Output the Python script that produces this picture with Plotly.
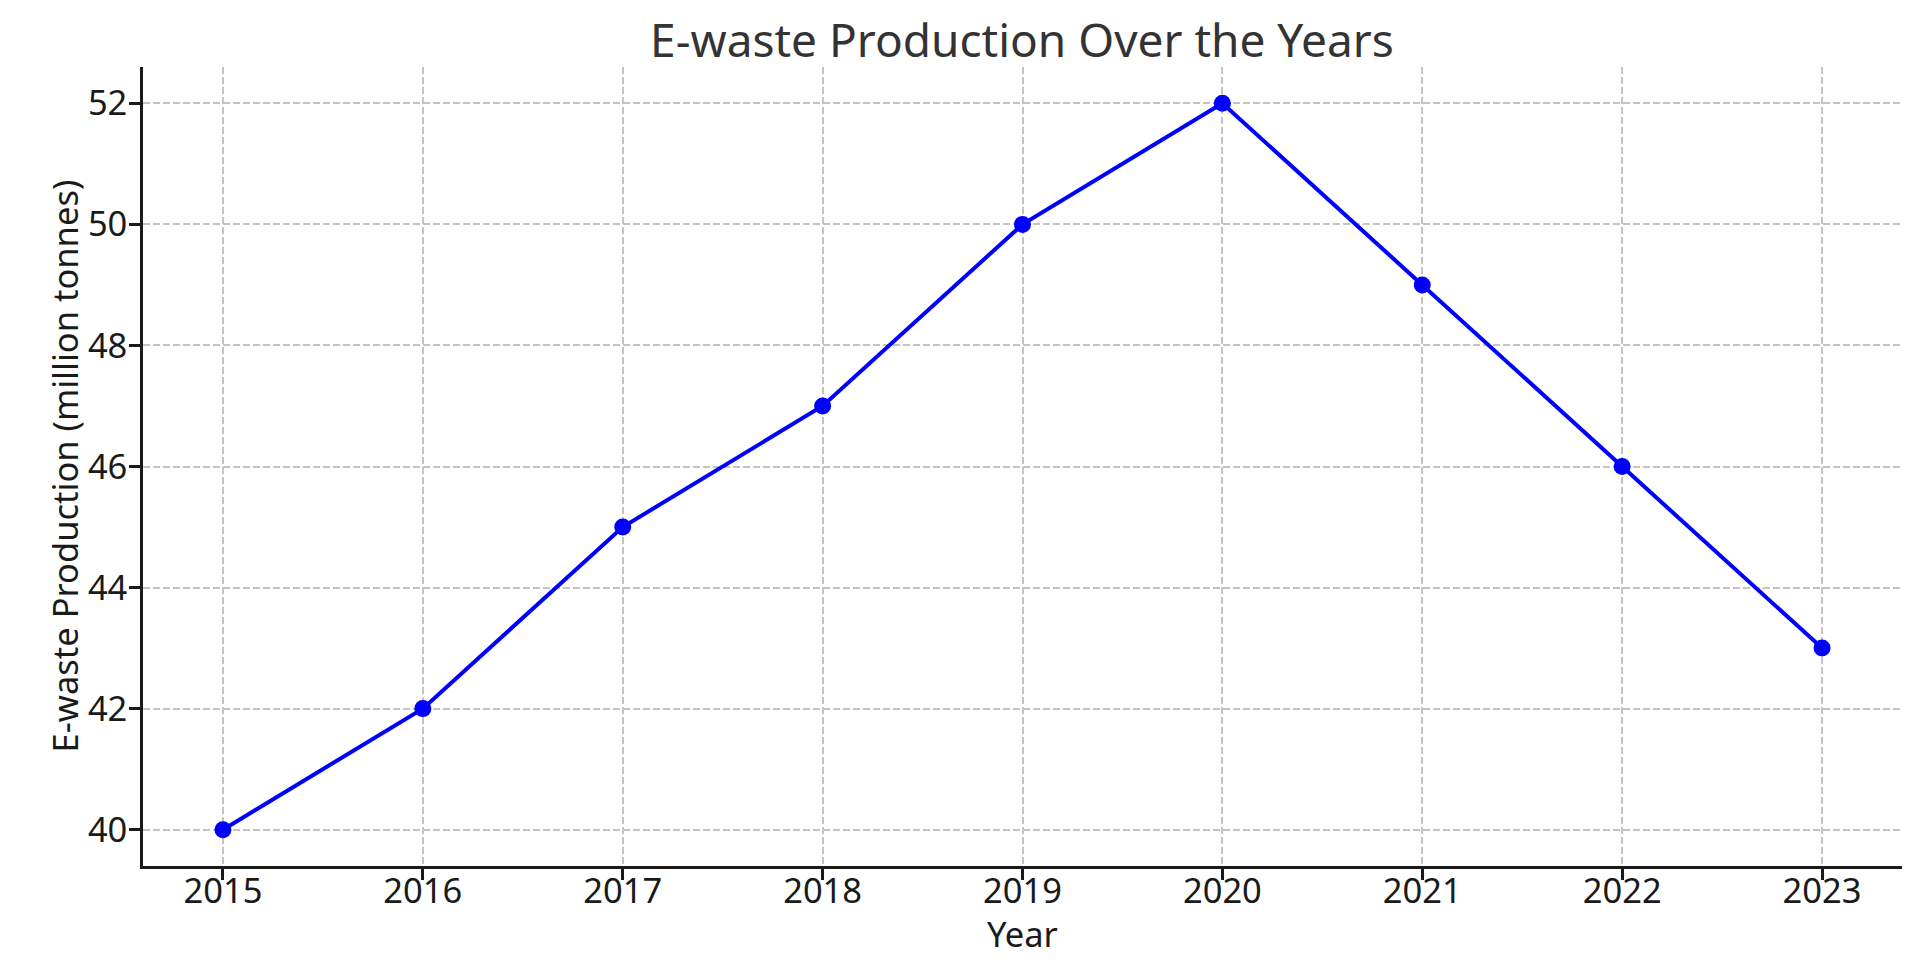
import plotly.graph_objects as go

years = [2015, 2016, 2017, 2018, 2019, 2020, 2021, 2022, 2023]
ewaste = [40, 42, 45, 47, 50, 52, 49, 46, 43]
y_ticks = [40, 42, 44, 46, 48, 50, 52]

FONT = "Noto Sans"
TXT = "#1a1a1a"
FS = 34.5

# page body has an 8px margin, so the figure is shifted by (8, 8)
W, H = 1904, 952

fig = go.Figure()
fig.add_trace(go.Scatter(
    x=years, y=ewaste, mode="lines+markers",
    line=dict(color="#0000ff", width=4),
    marker=dict(color="#0000ff", size=17),
    showlegend=False,
))

axis_common = dict(
    showline=True, linecolor=TXT, linewidth=2.5,
    ticks="outside", ticklen=11, tickwidth=2.5, tickcolor=TXT,
    showgrid=True, gridcolor="#c4c4c4", gridwidth=1.5, griddash="7px,3px",
    zeroline=False, mirror=False,
    tickfont=dict(family=FONT, size=FS, color=TXT),
)

fig.update_layout(
    width=W, height=H,
    paper_bgcolor="white", plot_bgcolor="white",
    margin=dict(l=135, r=10, t=59, b=94, autoexpand=False),
    title=dict(
        text="E-waste Production Over the Years",
        x=(1022 - 8) / W, xanchor="center", y=1 - (41 - 8) / H, yanchor="middle",
        xref="container", yref="container",
        font=dict(family=FONT, size=46, color="#333333"),
    ),
    xaxis=dict(
        axis_common, range=[2014.6, 2023.4], tickvals=years,
        ticktext=[str(y) for y in years], ticklabelstandoff=-18,
    ),
    yaxis=dict(
        axis_common, range=[39.4, 52.6], tickvals=y_ticks,
        ticklabelstandoff=-5,
    ),
    annotations=[
        dict(text="Year", xref="paper", yref="paper", x=0.5, y=0,
             xanchor="center", yanchor="middle", yshift=-67, showarrow=False,
             font=dict(family=FONT, size=FS, color=TXT)),
        dict(text="E-waste Production (million tonnes)", xref="paper", yref="paper",
             x=0, y=0.5, xanchor="center", yanchor="middle", xshift=-79,
             textangle=-90, showarrow=False,
             font=dict(family=FONT, size=FS, color=TXT)),
    ],
)

fig.write_html("out.html")
